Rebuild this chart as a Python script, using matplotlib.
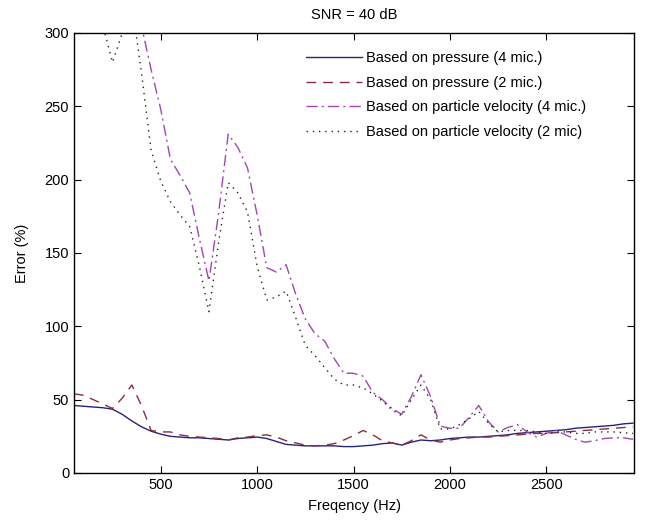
import numpy as np
import matplotlib
matplotlib.use('Agg')
import matplotlib.pyplot as plt

plt.rcParams['font.family'] = ['Liberation Sans', 'DejaVu Sans']

freq = np.arange(50, 3000, 50)

p4 = [46, 45.5, 45, 44.5, 43.5, 40, 35.5, 31.5, 28.5, 26.5,
      25, 24.5, 24, 24, 23.5, 23, 22.5, 23.5, 24, 24.5,
      23.5, 21.5, 19.5, 19, 18.5, 18.5, 18.5, 18.5, 18, 18,
      18.5, 19, 20, 20.5, 19, 21, 22.5, 22, 22.5, 23.5,
      24, 24.5, 24.5, 25, 25.5, 26, 27, 27.5, 28, 28.5,
      29, 29.5, 30.5, 31, 31.5, 32, 32.5, 33.5, 34]

p2 = [54, 53, 50, 47, 44, 51, 60, 46, 29, 28,
      28, 26, 25, 24.5, 24, 23.5, 22.5, 24, 24.5, 25.5,
      26, 24.5, 22, 20.5, 19, 18.5, 19, 20, 22.5, 25.5,
      29, 26, 22, 20.5, 19, 22, 26, 22.5, 21, 22.5,
      23.5, 24, 24.5, 24.5, 25, 25.5, 26, 26.5, 27, 27,
      27.5, 28, 28.5, 29, 29.5, 30, 30.5, 31, 31.5]

v4 = [420, 410, 400, 390, 370, 350, 330, 305, 275, 248,
      214, 203, 191, 160, 131, 177, 231, 222, 208, 176,
      140, 137, 142, 122, 105, 95, 90, 78, 68, 68,
      66, 55, 50, 44, 40, 52, 67, 52, 32, 30.5,
      30.5, 38, 46, 35, 28, 31, 33, 28, 24.5, 27,
      29, 26, 23, 21, 22, 23.5, 24, 24, 23]

v2 = [330, 320, 315, 305, 280, 300, 320, 273, 220, 199,
      185, 176, 168, 141, 110, 157, 198, 191, 178, 141,
      118, 120, 124, 106, 87, 80, 72, 64, 60, 60,
      58, 54, 49, 43, 39, 50, 60, 50, 30, 30,
      33, 37, 42, 34, 28, 29, 29, 29, 28, 27,
      28, 28, 27, 27, 28, 28, 28, 27.5, 27]

labels = ['Based on pressure (4 mic.)', 'Based on pressure (2 mic.)',
          'Based on particle velocity (4 mic.)', 'Based on particle velocity (2 mic)']

fig = plt.figure(figsize=(6.46, 5.26), dpi=100)
ax = fig.add_axes([74 / 646, 1 - 473 / 526, 560 / 646, 440 / 526])

ax.plot(freq, p4, color='#24247a', lw=1.0, ls='-', label=labels[0])
ax.plot(freq, p2, color='#8b2d3c', lw=1.0, ls=(0, (7, 5)), label=labels[1])
ax.plot(freq, v4, color='#a444b4', lw=1.0, ls=(0, (8, 3, 1.5, 3)), label=labels[2])
ax.plot(freq, v2, color='#222222', lw=1.0, ls=(0, (1, 3.5)), label=labels[3])

ax.set_xlim(50, 2955)
ax.set_ylim(0, 300)
ax.set_xticks([500, 1000, 1500, 2000, 2500])
ax.set_yticks([0, 50, 100, 150, 200, 250, 300])
ax.tick_params(direction='in', top=True, right=True, length=5, labelsize=10.5)
for s in ax.spines.values():
    s.set_linewidth(1.0)

ax.set_title('SNR = 40 dB', fontsize=10.5, pad=10)
ax.set_xlabel('Freqency (Hz)', fontsize=10.5, labelpad=5)
ax.set_ylabel('Error (%)', fontsize=10.5, labelpad=11)

ax.legend(loc='upper left', bbox_to_anchor=(299 / 646, 1 - 44 / 526),
          bbox_transform=fig.transFigure, frameon=False, fontsize=10.5,
          handlelength=3.8, handletextpad=0.3, borderpad=0, labelspacing=0.72)

fig.savefig('out.png', dpi=100)
